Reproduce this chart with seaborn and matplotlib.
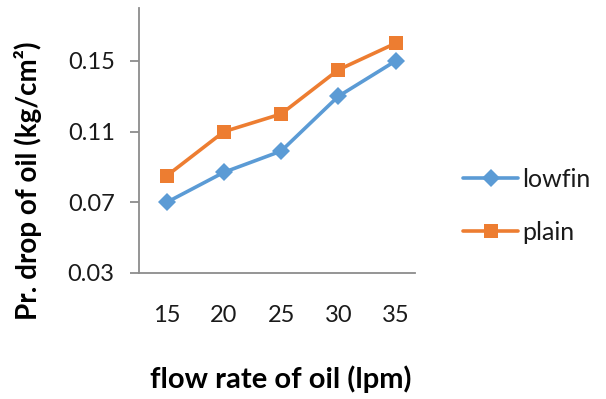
import matplotlib
matplotlib.use("Agg")
import matplotlib.pyplot as plt
import seaborn as sns
import pandas as pd

# Oil-side pressure drop versus oil flow rate
flow_rate = [15, 20, 25, 30, 35]
lowfin = [0.070, 0.087, 0.099, 0.130, 0.150]
plain = [0.085, 0.110, 0.120, 0.145, 0.160]
y_ticks = [0.03, 0.07, 0.11, 0.15]

df = pd.DataFrame({
    "flow": flow_rate * 2,
    "drop": lowfin + plain,
    "tube": ["lowfin"] * len(lowfin) + ["plain"] * len(plain),
})

sns.set_theme(style="white")
plt.rcParams["font.family"] = ["Lato", "DejaVu Sans"]

fig = plt.figure(figsize=(6.06, 3.99), dpi=100)
ax = fig.add_axes([0.2294, 0.3158, 0.6848 - 0.2294, 0.98 - 0.3158])

palette = {"lowfin": "#5B9BD5", "plain": "#ED7D31"}
sns.lineplot(data=df, x="flow", y="drop", hue="tube", style="tube",
             markers={"lowfin": "D", "plain": "s"}, dashes=False,
             palette=palette, linewidth=2.6, markersize=10,
             markeredgewidth=0, ax=ax, legend=True)
for line in ax.lines:
    if line.get_marker() == "D":
        line.set_markersize(9)

ax.set_xlim(12.58, 36.7)
ax.set_ylim(0.03, 0.18)
ax.set_xticks(flow_rate)
ax.set_xticklabels([str(v) for v in flow_rate])
ax.set_yticks(y_ticks)
ax.set_yticklabels([f"{v:.2f}" for v in y_ticks])

for side in ("top", "right"):
    ax.spines[side].set_visible(False)
for side in ("left", "bottom"):
    ax.spines[side].set_color("#8c8c8c")
    ax.spines[side].set_linewidth(1.3)

ax.tick_params(axis="y", which="major", left=True, length=6.5, width=1.3,
               color="#8c8c8c", labelsize=17, labelcolor="#1a1a1a", pad=11)
ax.tick_params(axis="x", which="major", bottom=False, labelsize=17,
               labelcolor="#1a1a1a", pad=17)

ax.set_xlabel("flow rate of oil (lpm)", fontsize=21, fontweight="bold",
              color="black")
ax.set_ylabel("Pr. drop of oil (kg/cm²)", fontsize=20, fontweight="bold",
              color="black")
ax.xaxis.set_label_coords((281 - 139) / (415 - 139), -(379 - 273) / (273 - 8))
ax.yaxis.set_label_coords(-(139 - 28) / (415 - 139), (273 - 181) / (273 - 8))
ax.xaxis.label.set_va("center")
ax.yaxis.label.set_va("center")

leg = ax.legend(loc="center left", bbox_to_anchor=(463 / 606, 1 - 206 / 399),
                bbox_transform=fig.transFigure, frameon=False, fontsize=18,
                handlelength=2.2, handletextpad=0.15, labelspacing=1.2,
                borderaxespad=0, borderpad=0)
for t in leg.get_texts():
    t.set_color("#1a1a1a")

fig.savefig("out.png", dpi=100)
